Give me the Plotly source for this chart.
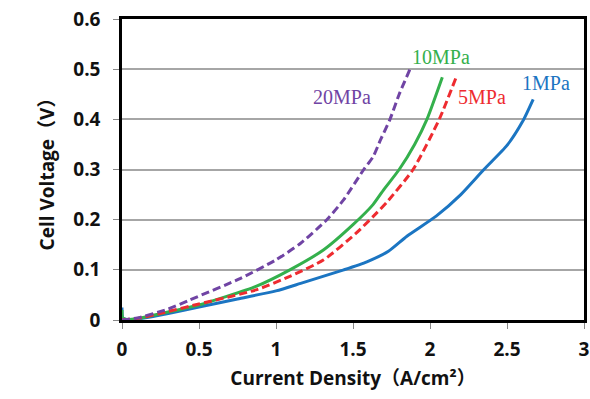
import plotly.graph_objects as go

# 1 MPa (blue, solid)
x_1mpa = [0, 0.005, 0.03, 0.1, 0.3, 0.5, 0.75, 1.0, 1.16, 1.44, 1.59, 1.73, 1.85, 2.04, 2.2, 2.35, 2.5, 2.6, 2.67]
y_1mpa = [0.025, 0.004, 0.001, 0.002, 0.013, 0.026, 0.042, 0.058, 0.073, 0.1, 0.116, 0.137, 0.167, 0.207, 0.25, 0.3, 0.348, 0.395, 0.44]

# 10 MPa (green, solid)
x_10mpa = [0, 0.005, 0.03, 0.1, 0.3, 0.5, 0.87, 1.09, 1.31, 1.5, 1.63, 1.7, 1.8, 1.9, 1.98, 2.08]
y_10mpa = [0.02, 0.004, 0.001, 0.003, 0.016, 0.03, 0.067, 0.1, 0.14, 0.19, 0.23, 0.26, 0.3, 0.35, 0.4, 0.484]

# 5 MPa (red, dashed)
x_5mpa = [0, 0.03, 0.1, 0.3, 0.5, 0.87, 1.09, 1.31, 1.52, 1.63, 1.72, 1.89, 2.06, 2.17]
y_5mpa = [0.0, 0.001, 0.003, 0.017, 0.032, 0.06, 0.087, 0.12, 0.173, 0.206, 0.235, 0.3, 0.4, 0.484]

# 20 MPa (purple, dashed)
x_20mpa = [0, 0.03, 0.1, 0.3, 0.44, 0.77, 1.0, 1.16, 1.33, 1.44, 1.57, 1.63, 1.68, 1.74, 1.8, 1.87]
y_20mpa = [0.0, 0.001, 0.004, 0.022, 0.04, 0.083, 0.12, 0.153, 0.2, 0.24, 0.3, 0.325, 0.36, 0.4, 0.45, 0.5]

series = [
    ("1MPa", x_1mpa, y_1mpa, "#1b75c2", "solid", 2.75, 0.472),
    ("10MPa", x_10mpa, y_10mpa, "#34b04c", "solid", 2.07, 0.524),
    ("5MPa", x_5mpa, y_5mpa, "#ee2b30", "8px,4px", 2.34, 0.444),
    ("20MPa", x_20mpa, y_20mpa, "#7044a4", "8px,4px", 1.43, 0.444),
]

fig = go.Figure()
for name, xs, ys, color, dash, lx, ly in series:
    fig.add_trace(go.Scatter(x=xs, y=ys, mode="lines", name=name,
                             line=dict(color=color, width=3, dash=dash,
                                       shape="spline", smoothing=0.6),
                             showlegend=False))
    fig.add_annotation(x=lx, y=ly, text=name, showarrow=False,
                       font=dict(family="Liberation Serif", size=20, color=color))

fam = "Open Sans, Noto Sans CJK SC"
axis_font = dict(family=fam, size=19, color="#111111")
tick_font = dict(family=fam, size=19, color="#111111", weight="bold")
fig.update_layout(
    width=590, height=399,
    margin=dict(l=122, r=6, t=19, b=79),
    paper_bgcolor="white", plot_bgcolor="white",
    xaxis=dict(range=[0, 3], dtick=0.5, showgrid=False, zeroline=False, automargin=False,
               showline=True, linecolor="black", linewidth=2.5, mirror=True,
               ticks="outside", ticklen=6, tickcolor="#888888",
               tickfont=tick_font, ticklabelstandoff=4,
               title=dict(text="<b>Current Density（A/cm²）</b>", font=axis_font, standoff=12)),
    yaxis=dict(range=[0, 0.6], dtick=0.1, showgrid=True, gridcolor="#a6a6a6", gridwidth=1.5,
               zeroline=False, showline=True, linecolor="black", linewidth=2.5, mirror=True,
               automargin=False,
               ticks="outside", ticklen=6, tickcolor="#888888",
               tickformat="~g", ticklabelstandoff=9,
               tickfont=tick_font,
               title=dict(text="<b>Cell Voltage（V）</b>", font=axis_font, standoff=14)),
)
fig.write_html("out.html", config={"displayModeBar": False},
               post_script="document.body.style.margin='0';")
